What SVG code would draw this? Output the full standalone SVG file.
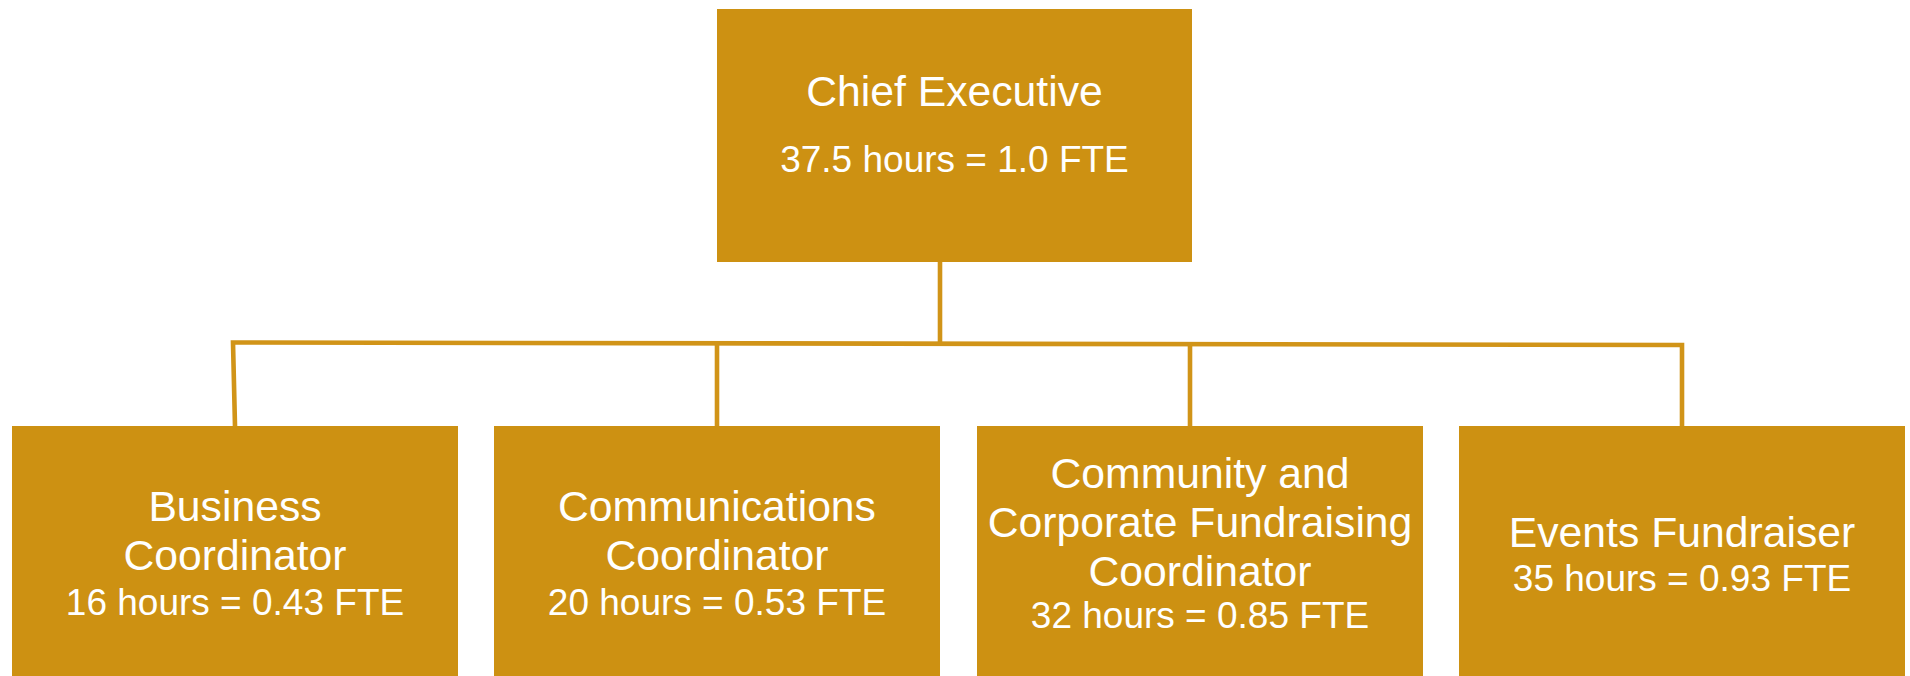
<svg xmlns="http://www.w3.org/2000/svg" width="1910" height="676" viewBox="0 0 1910 676">
  <style>
    .box { fill: #CD9112; }
    .t { font-family: "Liberation Sans", Arial, sans-serif; fill: #FFFFFF; text-anchor: middle; }
    .title { font-size: 42.7px; }
    .fte { font-size: 37px; }
    .link { fill: none; stroke: #D19418; stroke-width: 4.6; stroke-linejoin: miter; }
  </style>
  <rect width="1910" height="676" fill="#FFFFFF"/>

  <!-- connectors -->
  <g id="connectors">
    <path class="link" d="M940 262 V343"/>
    <path class="link" d="M235 426 L233 342.5 L1682 345 V426"/>
    <path class="link" d="M717 343 V426"/>
    <path class="link" d="M1190 344 V426"/>
  </g>

  <g id="chief-executive">
    <rect class="box" x="717" y="9" width="475" height="253"/>
    <text class="t title" x="954.5" y="106">Chief Executive</text>
    <text class="t fte" x="954.5" y="172">37.5 hours = 1.0 FTE</text>
  </g>

  <g id="business-coordinator">
    <rect class="box" x="12" y="426" width="446" height="250"/>
    <text class="t title" x="235" y="521">Business</text>
    <text class="t title" x="235" y="570">Coordinator</text>
    <text class="t fte" x="235" y="615">16 hours = 0.43 FTE</text>
  </g>

  <g id="communications-coordinator">
    <rect class="box" x="494" y="426" width="446" height="250"/>
    <text class="t title" x="717" y="521">Communications</text>
    <text class="t title" x="717" y="570">Coordinator</text>
    <text class="t fte" x="717" y="615">20 hours = 0.53 FTE</text>
  </g>

  <g id="fundraising-coordinator">
    <rect class="box" x="977" y="426" width="446" height="250"/>
    <text class="t title" x="1200" y="488">Community and</text>
    <text class="t title" x="1200" y="537">Corporate Fundraising</text>
    <text class="t title" x="1200" y="586">Coordinator</text>
    <text class="t fte" x="1200" y="628">32 hours = 0.85 FTE</text>
  </g>

  <g id="events-fundraiser">
    <rect class="box" x="1459" y="426" width="446" height="250"/>
    <text class="t title" x="1682" y="547">Events Fundraiser</text>
    <text class="t fte" x="1682" y="591">35 hours = 0.93 FTE</text>
  </g>
</svg>
